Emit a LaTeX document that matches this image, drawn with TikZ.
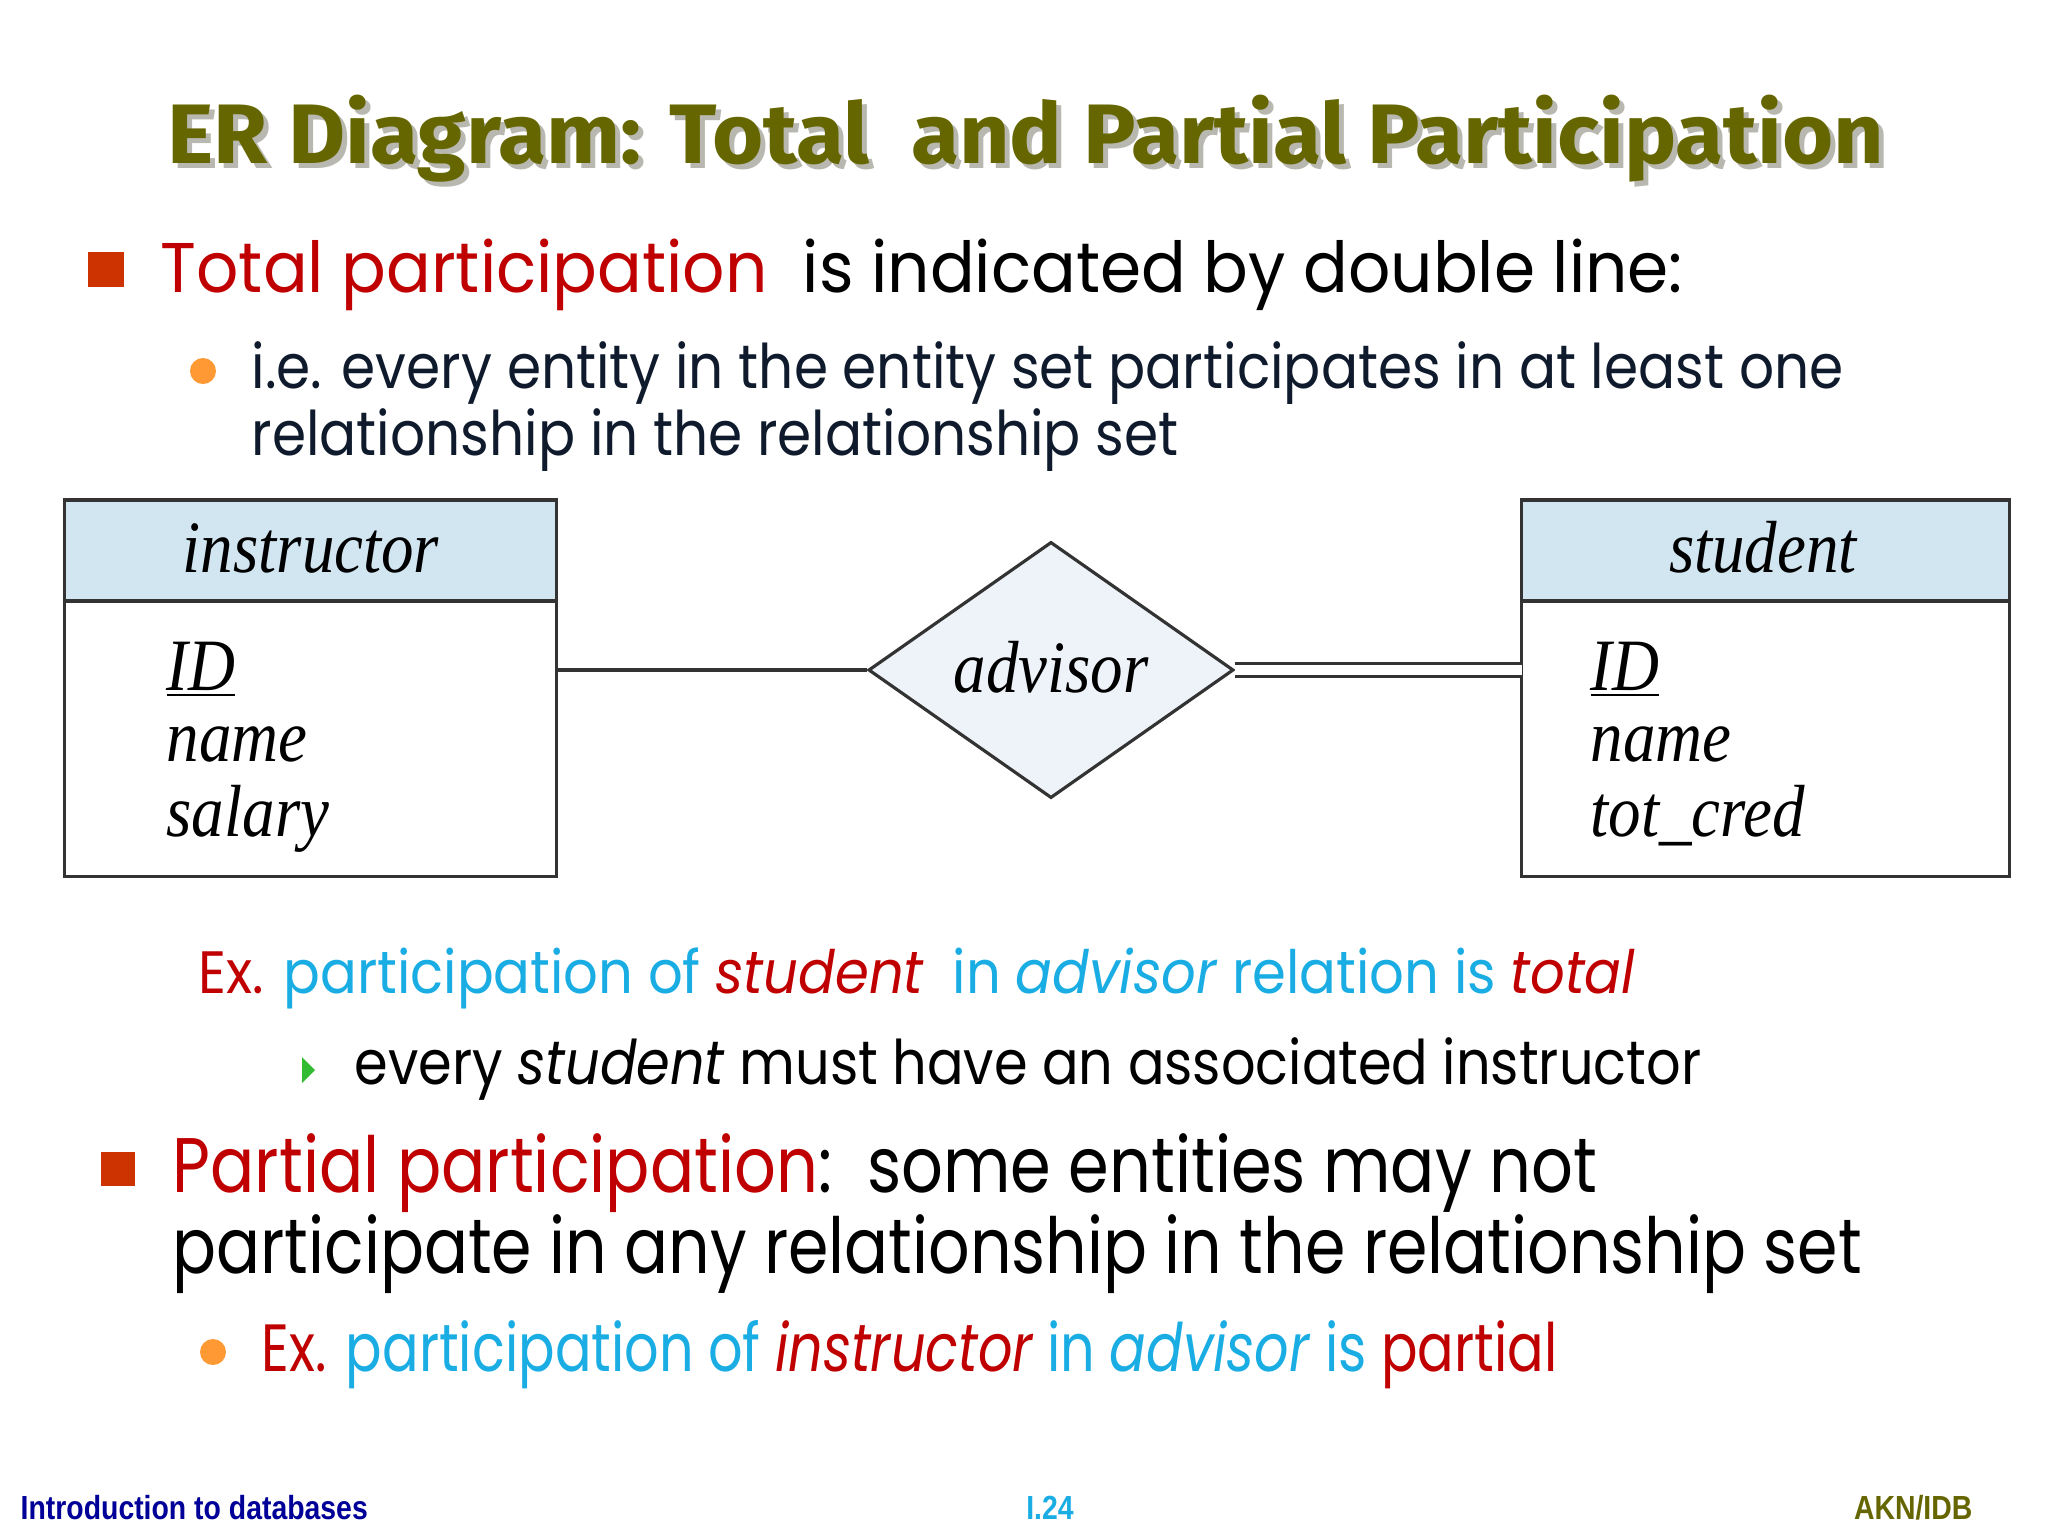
\documentclass[tikz,border=0pt]{standalone}
\usepackage{fontspec}
\usepackage{xcolor}
\usepackage{tikz}
\usetikzlibrary{shapes.geometric,positioning}

\setmainfont{Poppins}[FakeStretch=0.88]
\newfontfamily\titlefont{Fira Sans}[FakeStretch=1.04]
\newfontfamily\erfont{Liberation Serif}[FakeStretch=0.88]
\newfontfamily\footfont{Liberation Sans}[FakeStretch=0.85]

\definecolor{titleolive}{HTML}{666600}
\definecolor{shadowgray}{HTML}{B8B8B0}
\definecolor{darkred}{HTML}{C00000}
\definecolor{squarered}{HTML}{CC3300}
\definecolor{dotorange}{HTML}{FF9933}
\definecolor{skyblue}{HTML}{1AADE4}
\definecolor{arrowgreen}{HTML}{33BB33}
\definecolor{inknavy}{HTML}{0F1B2D}
\definecolor{headblue}{HTML}{D2E6F2}
\definecolor{diamondfill}{HTML}{EEF3FA}
\definecolor{linegray}{HTML}{333333}
\definecolor{footnavy}{HTML}{000099}

\begin{document}
\begin{tikzpicture}[x=0.01cm,y=-0.01cm,
    txt/.style={anchor=base west,inner sep=0pt},
    erlabel/.style={anchor=base,inner sep=0pt,font=\erfont\itshape\fontsize{21}{24}\selectfont},
    erattr/.style={anchor=base west,inner sep=0pt,font=\erfont\itshape\fontsize{21}{24}\selectfont},
    foot/.style={anchor=base,inner sep=0pt,font=\footfont\bfseries\fontsize{9.5}{11}\selectfont}]
    \tikzstyle{titletxt}=[anchor=base,inner sep=0pt,font=\titlefont\bfseries\fontsize{24}{28}\selectfont]
    \tikzstyle{ehead}=[draw=linegray,line width=0.9pt,fill=headblue,minimum height=1.01cm,inner sep=0pt,outer sep=0pt]
    \tikzstyle{ebody}=[draw=linegray,line width=0.9pt,fill=white,minimum height=2.75cm,inner sep=0pt,outer sep=0pt]
    \tikzstyle{rel}=[diamond,draw=linegray,line width=0.9pt,fill=diamondfill,minimum width=3.65cm,minimum height=2.56cm,inner sep=0pt]

    \useasboundingbox (0,0) rectangle (2048,1536);
    \fill[white] (0,0) rectangle (2048,1536);

    % title
    \node[titletxt,text=shadowgray] (tshadow) at (1031,168) {ER Diagram: Total\ \ and Partial Participation};
    \node[titletxt,text=titleolive] (title)   at (1026,163) {ER Diagram: Total\ \ and Partial Participation};

    % first bullet
    \fill[squarered] (88,252) rectangle (124,287);
    \node[txt,font=\fontsize{20}{24}\selectfont] (tot) at (160,292)
        {\scalebox{1.07}[1]{\textcolor{darkred}{Total participation}\ \ is indicated by double line:}};
    \fill[dotorange] (203,371) circle (13);
    \node[txt,text=inknavy,font=\fontsize{17.5}{21}\selectfont] (ie1) at (251,388)
        {\scalebox{1.015}[1]{i.e. every entity in the entity set participates in at least one}};
    \node[txt,text=inknavy,font=\fontsize{17.5}{21}\selectfont] (ie2) at (251,455)
        {\scalebox{1.015}[1]{relationship in the relationship set}};

    % E-R diagram
    \node[ehead,minimum width=4.91cm] (ih) at (310.5,550.5) {};
    \node[ebody,minimum width=4.91cm,below=0pt of ih] (ib) {};
    \node[ehead,minimum width=4.87cm] (sh) at (1765.5,550.5) {};
    \node[ebody,minimum width=4.87cm,below=0pt of sh] (sb) {};
    \node[rel] (adv) at (1051,670) {};

    \node[erlabel] (iname) at (311,572) {instructor};
    \node[erlabel] (sname) at (1763,572) {student};
    \node[erlabel] (aname) at (1051,692) {advisor};

    \node[erattr] (i1) at (166,690) {\underline{ID}};
    \node[erattr] (i2) at (166,761) {name};
    \node[erattr] (i3) at (166,836) {salary};
    \node[erattr] (s1) at (1590,690) {\underline{ID}};
    \node[erattr] (s2) at (1590,761) {name};
    \node[erattr] (s3) at (1590,836) {tot\_cred};

    \draw[linegray,line width=0.9pt] (adv.west) -- (adv.west -| ib.east);
    \draw[linegray,line width=0.9pt,double=white,double distance=2.9pt] (adv.east) -- (adv.east -| sb.west);

    % example for total participation
    \node[txt,text=skyblue,font=\fontsize{17}{21}\selectfont] (ex1) at (198,993)
        {\scalebox{1.035}[1]{\textcolor{darkred}{Ex.} participation of \textcolor{darkred}{\itshape student}\ \ in \textit{advisor} relation is \textcolor{darkred}{\itshape total}}};
    \fill[arrowgreen] (302,1057) -- (315,1070) -- (302,1083) -- cycle;
    \node[txt,font=\fontsize{17.5}{21}\selectfont] (every) at (354,1084)
        {every \textit{student} must have an associated instructor};

    % second bullet
    \fill[squarered] (101,1152) rectangle (135,1186);
    \node[txt,font=\fontsize{22}{26}\selectfont] (par1) at (172,1192)
        {\scalebox{0.962}[1]{\textcolor{darkred}{Partial participation}:\ \ some entities may not}};
    \node[txt,font=\fontsize{22}{26}\selectfont] (par2) at (172,1273)
        {\scalebox{0.956}[1]{participate in any relationship in the relationship set}};
    \fill[dotorange] (213,1352) circle (13);
    \node[txt,text=skyblue,font=\fontsize{19}{23}\selectfont] (ex2) at (261,1371)
        {\scalebox{0.92}[1]{\textcolor{darkred}{Ex.} participation of \textcolor{darkred}{\itshape instructor} in \textit{advisor} is \textcolor{darkred}{partial}}};

    % footer
    \node[foot,text=footnavy,anchor=base west] (fl) at (20,1519) {Introduction to databases};
    \node[foot,text=skyblue] (fc) at (1050,1519) {I.24};
    \node[foot,text=titleolive,anchor=base east] (fr) at (1973,1519) {AKN/IDB};
\end{tikzpicture}
\end{document}
